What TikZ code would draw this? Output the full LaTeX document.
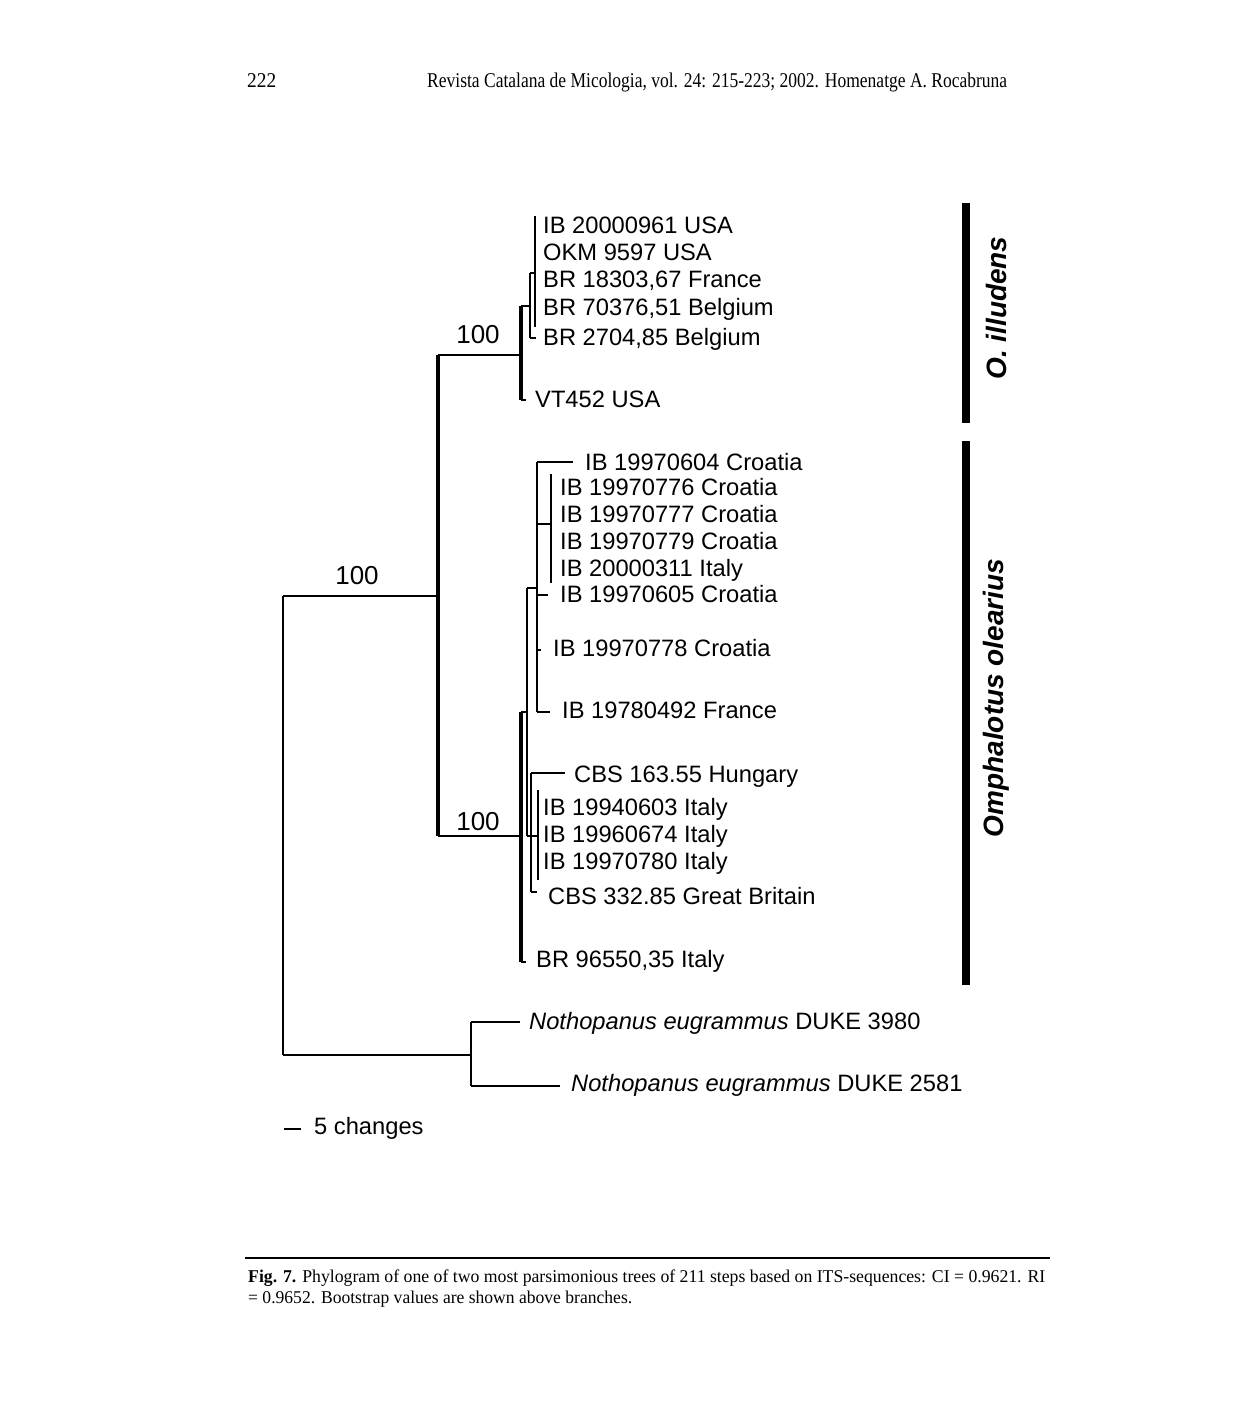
\documentclass[tikz,border=0pt]{standalone}
\usepackage{fontspec}
\setmainfont{Liberation Serif}
\setsansfont{Liberation Sans}
\usepackage{graphicx}
\usetikzlibrary{positioning}

\begin{document}
\begin{tikzpicture}[x=1pt, y=-1pt, line cap=butt,
    br/.style={line width=2.5pt},
    trunk/.style={line width=4.8pt},
    cladebar/.style={line width=8pt},
    taxon/.style={anchor=west, inner sep=0pt, text height=17pt, text depth=0pt,
                  font=\fontsize{23.7}{28}\selectfont\sffamily},
    boot/.style={inner sep=0pt, font=\fontsize{26}{30}\selectfont\sffamily},
    cladename/.style={rotate=90, inner sep=0pt,
                      font=\fontsize{28}{32}\selectfont\sffamily\bfseries\itshape},
    pagetext/.style={anchor=west, inner sep=0pt, text height=14pt, text depth=0pt}]

    % page, pixel grid with y going down
    \fill[white] (0,0) rectangle (1248,1419);
    \useasboundingbox (0,0) rectangle (1248,1419);

    % Running head
    \node[pagetext, font=\fontsize{21}{24}\selectfont] (pageno) at (247,80)
        {\resizebox{29pt}{\height}{222}};
    \node[pagetext, font=\fontsize{21}{24}\selectfont] (runhead) at (427,80)
        {\resizebox{580pt}{\height}{Revista Catalana de Micologia, vol. 24: 215-223; 2002. Homenatge A. Rocabruna}};

    % Shared coordinates of the tree
    \coordinate (ROOT_T) at (283, 596);   % root, to ingroup
    \coordinate (ROOT_B) at (283, 1055);  % root, to outgroup
    \coordinate (ING_M) at (438, 596);
    \coordinate (ING_T) at (438, 355);
    \coordinate (ING_B) at (438, 836);
    % O. illudens
    \coordinate (ILL_M) at (521, 355);
    \coordinate (ILL_T) at (521, 306);
    \coordinate (ILL_B) at (521, 400);
    \coordinate (VT_TIP) at (526, 400);
    \coordinate (B_M) at (530, 306);
    \coordinate (B_T) at (530, 273);
    \coordinate (B_B) at (530, 338);
    \coordinate (BR2704_TIP) at (536, 338);
    \coordinate (C_M) at (535, 273);
    \coordinate (C_T) at (535, 216);
    \coordinate (C_B) at (535, 327);
    % Omphalotus olearius
    \coordinate (OLE_M) at (521, 836);
    \coordinate (OLE_T) at (521, 712);
    \coordinate (OLE_B) at (521, 962);
    \coordinate (BR96550_TIP) at (526, 962);
    \coordinate (G_M) at (527, 712);
    \coordinate (G_T) at (527, 588);
    \coordinate (G_B) at (527, 836);
    \coordinate (E_M) at (537, 588);
    \coordinate (E_T) at (537, 462);
    \coordinate (E_B) at (537, 712);
    \coordinate (E_F) at (537, 524);
    \coordinate (E_605) at (537, 595);
    \coordinate (E_778) at (537, 650);
    \coordinate (T604_TIP) at (573, 462);
    \coordinate (F_M) at (551, 524);
    \coordinate (F_T) at (551, 474);
    \coordinate (F_B) at (551, 583);
    \coordinate (T605_TIP) at (548, 595);
    \coordinate (T778_TIP) at (541, 650);
    \coordinate (T492_TIP) at (550, 712);
    \coordinate (H_M) at (531, 836);
    \coordinate (H_T) at (531, 773);
    \coordinate (H_B) at (531, 892);
    \coordinate (HUN_TIP) at (565, 773);
    \coordinate (I_M) at (538, 836);
    \coordinate (I_T) at (538, 790);
    \coordinate (I_B) at (538, 880);
    \coordinate (GB_TIP) at (537, 892);
    % Outgroup
    \coordinate (OUT_M) at (471, 1055);
    \coordinate (OUT_T) at (471, 1022);
    \coordinate (OUT_B) at (471, 1086);
    \coordinate (D3980_TIP) at (520, 1022);
    \coordinate (D2581_TIP) at (560, 1086);

    % 1. Root and ingroup spine
    \draw[br] (ROOT_T) -- (ROOT_B);
    \draw[br] (ROOT_T) -- (ING_M);
    \draw[trunk] (ING_T) -- (ING_B);
    \node[boot] (bs_ing) at (357, 576) {100};

    % 2. O. illudens clade
    \draw[br] (ING_T) -- (ILL_M);
    \node[boot] (bs_ill) at (478, 335) {100};
    \draw[trunk] (ILL_T) -- (ILL_B);
    \draw[br] (ILL_B) -- (VT_TIP);
    \draw[br] (ILL_T) -- (B_M);
    \draw[br] (B_T) -- (B_B);
    \draw[br] (B_B) -- (BR2704_TIP);
    \draw[br] (B_T) -- (C_M);
    \draw[br] (C_T) -- (C_B);
    \node[taxon] (ib20000961) at (543, 225) {IB 20000961 USA};
    \node[taxon] (okm9597) at (543, 252) {OKM 9597 USA};
    \node[taxon] (br18303) at (543, 279) {BR 18303,67 France};
    \node[taxon] (br70376) at (543, 307) {BR 70376,51 Belgium};
    \node[taxon] (br2704) at (543, 337) {BR 2704,85 Belgium};
    \node[taxon] (vt452) at (535, 399) {VT452 USA};

    % 3. Omphalotus olearius clade
    \draw[br] (ING_B) -- (OLE_M);
    \node[boot] (bs_ole) at (478, 822) {100};
    \draw[trunk] (OLE_T) -- (OLE_B);
    \draw[br] (OLE_B) -- (BR96550_TIP);
    \draw[br] (OLE_T) -- (G_M);
    \draw[br] (G_T) -- (G_B);
    \draw[br] (G_T) -- (E_M);
    \draw[br] (E_T) -- (E_B);
    \draw[br] (E_T) -- (T604_TIP);
    \draw[br] (E_F) -- (F_M);
    \draw[br] (F_T) -- (F_B);
    \draw[br] (E_605) -- (T605_TIP);
    \draw[br] (E_778) -- (T778_TIP);
    \draw[br] (E_B) -- (T492_TIP);
    \draw[br] (G_B) -- (H_M);
    \draw[br] (H_T) -- (H_B);
    \draw[br] (H_T) -- (HUN_TIP);
    \draw[br] (H_M) -- (I_M);
    \draw[br] (I_T) -- (I_B);
    \draw[br] (H_B) -- (GB_TIP);
    \node[taxon] (ib19970604) at (585, 462) {IB 19970604 Croatia};
    \node[taxon] (ib19970776) at (560, 487) {IB 19970776 Croatia};
    \node[taxon] (ib19970777) at (560, 514) {IB 19970777 Croatia};
    \node[taxon] (ib19970779) at (560, 541) {IB 19970779 Croatia};
    \node[taxon] (ib20000311) at (560, 568) {IB 20000311 Italy};
    \node[taxon] (ib19970605) at (560, 594) {IB 19970605 Croatia};
    \node[taxon] (ib19970778) at (553, 648) {IB 19970778 Croatia};
    \node[taxon] (ib19780492) at (562, 710) {IB 19780492 France};
    \node[taxon] (cbs16355) at (574, 774) {CBS 163.55 Hungary};
    \node[taxon] (ib19940603) at (543, 807) {IB 19940603 Italy};
    \node[taxon] (ib19960674) at (543, 834) {IB 19960674 Italy};
    \node[taxon] (ib19970780) at (543, 861) {IB 19970780 Italy};
    \node[taxon] (cbs33285) at (548, 896) {CBS 332.85 Great Britain};
    \node[taxon] (br96550) at (536, 959) {BR 96550,35 Italy};

    % 4. Outgroup
    \draw[br] (ROOT_B) -- (OUT_M);
    \draw[br] (OUT_T) -- (OUT_B);
    \draw[br] (OUT_T) -- (D3980_TIP);
    \draw[br] (OUT_B) -- (D2581_TIP);
    \node[taxon] (duke3980) at (529, 1021) {\textit{Nothopanus eugrammus} DUKE 3980};
    \node[taxon] (duke2581) at (571, 1083) {\textit{Nothopanus eugrammus} DUKE 2581};

    % 5. Scale bar
    \coordinate (SC_L) at (284, 1129);
    \coordinate (SC_R) at (301, 1129);
    \draw[br] (SC_L) -- (SC_R);
    \node[taxon] (scale) at (314, 1126) {5 changes};

    % 6. Clade bars
    \coordinate (BAR1_T) at (966, 203);
    \coordinate (BAR1_B) at (966, 423);
    \coordinate (BAR2_T) at (966, 441);
    \coordinate (BAR2_B) at (966, 985);
    \draw[cladebar] (BAR1_T) -- (BAR1_B);
    \draw[cladebar] (BAR2_T) -- (BAR2_B);
    \node[cladename] (illname) at (996, 308) {O. illudens};
    \node[cladename] (olename) at (996, 698) {Omphalotus olearius};

    % 7. Caption
    \draw[line width=1.5pt] (245, 1258) -- (1050, 1258);
    \node[pagetext, font=\fontsize{18}{20}\selectfont] (capline1) at (248, 1275)
        {\resizebox{797pt}{\height}{\textbf{Fig. 7.} Phylogram of one of two most parsimonious trees of 211 steps based on ITS-sequences: CI = 0.9621. RI}};
    \node[pagetext, font=\fontsize{18}{20}\selectfont] (capline2) at (248, 1296)
        {\resizebox{384pt}{\height}{= 0.9652. Bootstrap values are shown above branches.}};

\end{tikzpicture}
\end{document}
